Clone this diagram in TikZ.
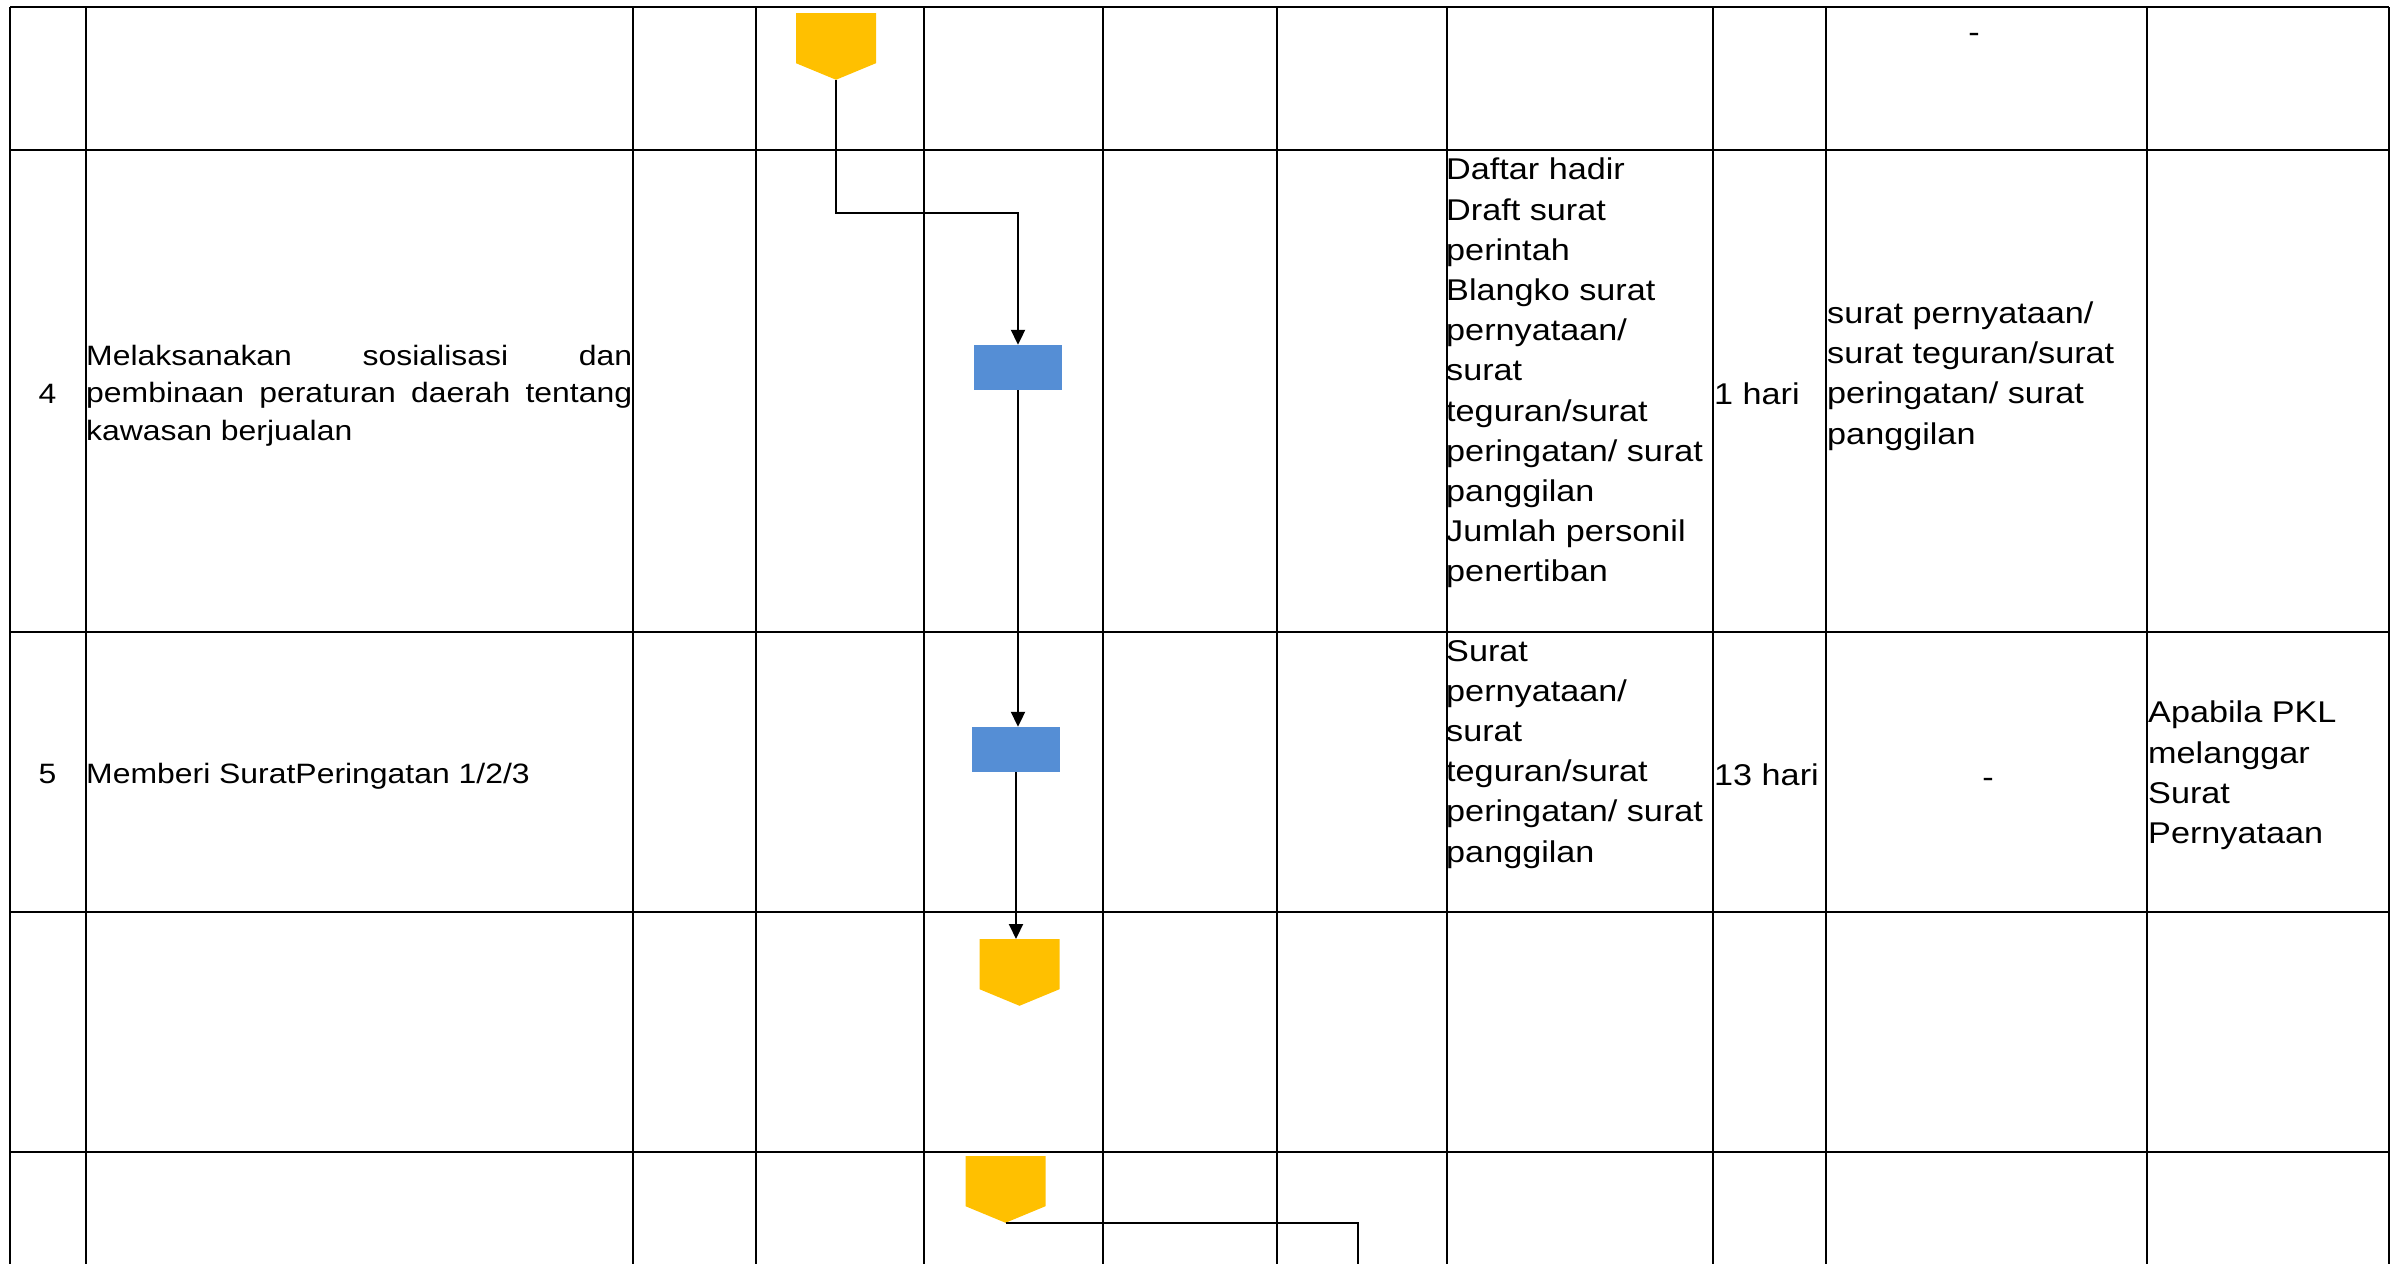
\documentclass[tikz,border=0pt]{standalone}
\usepackage{fontspec}
\usetikzlibrary{arrows.meta,shapes.symbols}
\newfontfamily\cellfont[FakeStretch=1.14]{Liberation Sans}
\definecolor{offpage}{HTML}{FFC000}
\definecolor{process}{HTML}{558ED5}

\begin{document}
\begin{tikzpicture}[x=1pt,y=-1pt,
    gridline/.style={line width=2.5pt},
    flow/.style={line width=2pt,-{Triangle[length=15pt,width=14pt]}},
    link/.style={line width=2pt},
    conn/.style={signal,signal to=south,signal from=nowhere,signal pointer angle=135,
      fill=offpage,inner sep=0pt,minimum width=80pt,minimum height=50pt},
    act/.style={rectangle,fill=process,inner sep=0pt,minimum width=88pt,minimum height=45pt},
    numtext/.style={inner sep=0pt,font=\cellfont\fontsize{28}{37.8}\selectfont},
    txt/.style={inner sep=0pt,align=left,font=\cellfont\fontsize{30}{40.2}\selectfont}]
  \useasboundingbox (0,0) rectangle (2397,1264);
  % table
  \begin{scope}[gridline]
    \draw (10,7) -- (2389,7);
    \draw (10,150) -- (2389,150);
    \draw (10,632) -- (2389,632);
    \draw (10,912) -- (2389,912);
    \draw (10,1152) -- (2389,1152);
    \draw (10,7) -- (10,1264);
    \draw (86,7) -- (86,1264);
    \draw (633,7) -- (633,1264);
    \draw (756,7) -- (756,1264);
    \draw (924,7) -- (924,1264);
    \draw (1103,7) -- (1103,1264);
    \draw (1277,7) -- (1277,1264);
    \draw (1447,7) -- (1447,1264);
    \draw (1713,7) -- (1713,1264);
    \draw (1826,7) -- (1826,1264);
    \draw (2147,7) -- (2147,1264);
    \draw (2389,7) -- (2389,1264);
  \end{scope}
  % texts
  \node (out3) [txt] at (1974,38) {-};
  \node (n4) [numtext,anchor=base] at (47.5,403) {4};
  \node (d4) [numtext,anchor=north west,text width=546pt,align=justify] at (86,344.6)
    {\tolerance=10000\hyphenpenalty=10000\exhyphenpenalty=10000 Melaksanakan sosialisasi dan pembinaan peraturan daerah tentang kawasan berjualan\par};
  \node (in4) [txt,anchor=north west] at (1446,158)
    {Daftar hadir\\Draft surat\\perintah\\Blangko surat\\pernyataan/\\surat\\teguran/surat\\peringatan/ surat\\panggilan\\Jumlah personil\\penertiban};
  \node (t4) [txt,anchor=base west] at (1714,404) {1 hari};
  \node (out4) [txt,anchor=north west] at (1827,301.5)
    {surat pernyataan/\\surat teguran/surat\\peringatan/ surat\\panggilan};
  \node (n5) [numtext,anchor=base] at (47.5,783) {5};
  \node (d5) [numtext,anchor=base west] at (86,783) {Memberi SuratPeringatan 1/2/3};
  \node (in5) [txt,anchor=north west] at (1446,640)
    {Surat\\pernyataan/\\surat\\teguran/surat\\peringatan/ surat\\panggilan};
  \node (t5) [txt,anchor=base west] at (1714,785) {13 hari};
  \node (out5) [txt] at (1988,783) {-};
  \node (note5) [txt,anchor=north west] at (2148,701)
    {Apabila PKL\\melanggar\\Surat\\Pernyataan};
  % flow
  \node (c1) [conn,anchor=north] at (836,13) {};
  \node (p1) [act] at (1018,367.5) {};
  \node (p2) [act] at (1016,749.5) {};
  \node (c2) [conn,anchor=north] at (1019.5,939) {};
  \node (c3) [conn,anchor=north] at (1005.5,1156) {};
  \coordinate (e1) at (1358,1264);
  \draw[flow] (c1.south) -- ++(0,133) -| (p1.north);
  \draw[flow] (p1.south) -- (p1.south |- p2.north);
  \draw[flow] (p2.south) -- (p2.south |- c2.north);
  \draw[link] (c3.south) -| (e1);
\end{tikzpicture}
\end{document}
